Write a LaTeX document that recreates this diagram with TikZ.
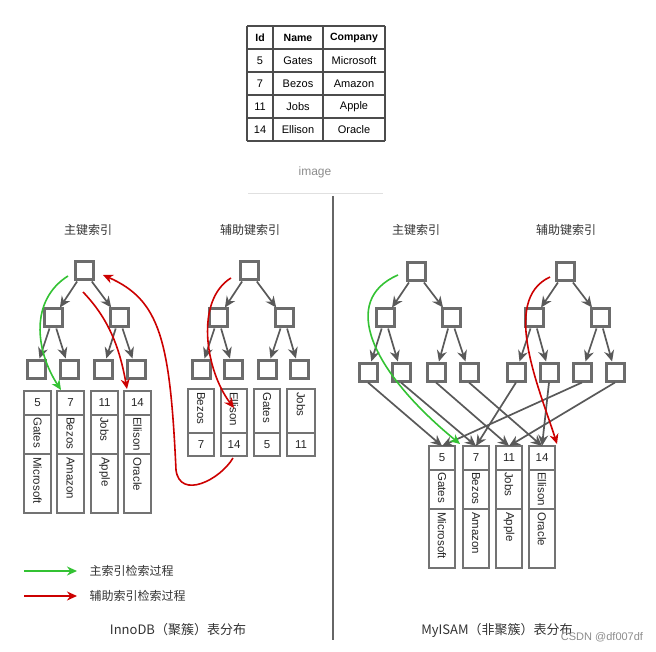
\documentclass[tikz,border=0pt]{standalone}
\usepackage{fontspec}
\setmainfont{Liberation Sans}
\newfontfamily\cjk{Noto Sans CJK SC}
\usetikzlibrary{arrows.meta,shadows}
\begin{document}
\begin{tikzpicture}[x=1pt,y=-1pt,
  tn/.style={draw=gray!85!black,line width=3pt,fill=white,minimum size=18pt,inner sep=0pt,drop shadow={opacity=0.25,shadow xshift=1pt,shadow yshift=-1pt}},
  ar/.style={draw=black!65,line width=1.7pt,-{Stealth[length=11pt,width=10pt]}},
  cell/.style={draw=gray!90!black,line width=2pt},
  tx/.style={font=\fontsize{11.5}{12}\selectfont,inner sep=0pt,text=black!85},
  rt/.style={tx,rotate=-90,anchor=west},
  gr/.style={draw=green!70!black!80,line width=1.6pt,-{Stealth[length=10pt,width=9pt]}},
  rd/.style={draw=red!80!black,line width=1.6pt,-{Stealth[length=10pt,width=9pt]}},
  lab/.style={font=\cjk\fontsize{12}{13}\selectfont,text=black!80},
  tc/.style={font=\fontsize{11}{12}\selectfont,inner sep=0pt}]
\useasboundingbox (0,0) rectangle (656,652);
% table
\foreach \y in {26,49,72,95,118,141} \draw[black!70,line width=1.2pt] (247,\y) -- (385,\y);
\foreach \x in {247,273,323,385} \draw[black!70,line width=1.2pt] (\x,26) -- (\x,141);
\node[tc,font=\bfseries\fontsize{10.5}{11}\selectfont] (h1) at (260,37.5) {Id};
\node[tc,font=\bfseries\fontsize{10.5}{11}\selectfont] (h2) at (298,37.5) {Name};
\node[tc,font=\bfseries\fontsize{10.5}{11}\selectfont] (h3) at (354,37.5) {Company};
\foreach \i/\a/\b/\c in {0/5/Gates/Microsoft,1/7/Bezos/Amazon,2/11/Jobs/Apple,3/14/Ellison/Oracle}{
  \node[tc] (ta\i) at (260,60.5+23*\i) {\a};
  \node[tc] (tb\i) at (298,60.5+23*\i) {\b};
  \node[tc] (tc\i) at (354,60.5+23*\i) {\c};}
\node[tc,text=black!45,font=\fontsize{12}{13}\selectfont] (img) at (315,172) {image};
\draw[black!12] (248,193) -- (383,193);
\draw[black!60,line width=1.5pt] (333,196) -- (333,640);
% labels
\node[lab] (l1) at (88,230) {主键索引};
\node[lab] (l2) at (250,230) {辅助键索引};
\node[lab] (l3) at (416,230) {主键索引};
\node[lab] (l4) at (566,230) {辅助键索引};
% trees
\newcommand\mytree[8]{%
 \node[tn] (#1r) at (#2,#4) {};
 \node[tn] (#1a) at (#2-31,318) {};
 \node[tn] (#1b) at (#2+35,318) {};
 \node[tn] (#1c) at (#3,#5) {};
 \node[tn] (#1d) at (#3+#6,#5) {};
 \node[tn] (#1e) at (#3+#7,#5) {};
 \node[tn] (#1f) at (#3+#8,#5) {};
 \draw[ar] (#1r) -- (#1a); \draw[ar] (#1r) -- (#1b);
 \draw[ar] (#1a) -- (#1c); \draw[ar] (#1a) -- (#1d);
 \draw[ar] (#1b) -- (#1e); \draw[ar] (#1b) -- (#1f);}
\mytree{A}{84}{36}{271}{369}{33}{67}{100}
\mytree{B}{249}{201}{271}{369}{32}{66}{98}
\mytree{C}{416}{368}{272}{372}{33}{68}{101}
\mytree{D}{565}{516}{272}{372}{33}{66}{99}
% clustered records
\newcommand\crec[7]{%
 \draw[cell] (#2,#4) rectangle (#3,#4+122);
 \draw[cell] (#2,#4+24) -- (#3,#4+24); \draw[cell] (#2,#4+63) -- (#3,#4+63);
 \coordinate (#1) at ({(#2+#3)/2},#4);
 \node[tx] (#1n) at ({(#2+#3)/2},#4+12) {#5};
 \node[rt] (#1a) at ({(#2+#3)/2},#4+26) {#6};
 \node[rt] (#1b) at ({(#2+#3)/2},#4+66) {#7};}
\crec{R1}{24}{51}{391}{5}{Gates}{Microsoft}
\crec{R2}{57}{84}{391}{7}{Bezos}{Amazon}
\crec{R3}{91}{118}{391}{11}{Jobs}{Apple}
\crec{R4}{124}{151}{391}{14}{Ellison}{Oracle}
% secondary records
\newcommand\srec[5]{%
 \draw[cell] (#2,389) rectangle (#3,456);
 \draw[cell] (#2,433) -- (#3,433);
 \coordinate (#1) at ({(#2+#3)/2},389);
 \node[rt] (#1a) at ({(#2+#3)/2},392) {#4};
 \node[tx] (#1n) at ({(#2+#3)/2},444.5) {#5};}
\srec{S1}{188}{214}{Bezos}{7}
\srec{S2}{221}{247}{Ellison}{14}
\srec{S3}{254}{280}{Gates}{5}
\srec{S4}{287}{315}{Jobs}{11}
% MyISAM records
\crec{M1}{429}{455}{446}{5}{Gates}{Microsoft}
\crec{M2}{463}{489}{446}{7}{Bezos}{Amazon}
\crec{M3}{496}{522}{446}{11}{Jobs}{Apple}
\crec{M4}{529}{555}{446}{14}{Ellison}{Oracle}
\draw[ar] (Cc.south) -- (M1);
\draw[ar] (Cd.south) -- (M2);
\draw[ar] (Ce.south) -- (M3);
\draw[ar] (Cf.south) -- (M4);
\draw[ar] (Dc.south) -- (M2);
\draw[ar] (Dd.south) -- (M4);
\draw[ar] (De.south) -- (M1);
\draw[ar] (Df.south) -- (M3);
% search paths
\coordinate (g1) at (68,276);
\draw[gr] (g1) .. controls (30,300) and (35,350) .. (61,390);
\coordinate (r1) at (83,292);
\draw[rd] (r1) .. controls (110,320) and (120,350) .. (127,389);
\coordinate (r2) at (231,278);
\draw[rd] (r2) .. controls (195,300) and (205,370) .. (234,408);
\coordinate (r3) at (233,458);
\draw[rd] (r3) .. controls (220,480) and (180,500) .. (176,470) .. controls (170,340) and (160,300) .. (103,275);
\coordinate (g2) at (398,275);
\draw[gr] (g2) .. controls (340,300) and (370,370) .. (460,444);
\coordinate (r4) at (550,277);
\draw[rd] (r4) .. controls (500,300) and (540,390) .. (557,444);
% legend
\coordinate (la) at (24,571); \coordinate (lb) at (77,571);
\coordinate (lc) at (24,596); \coordinate (ld) at (77,596);
\draw[gr] (la) -- (lb);
\draw[rd] (lc) -- (ld);
\node[lab,anchor=west] (t1) at (86,571) {主索引检索过程};
\node[lab,anchor=west] (t2) at (86,596) {辅助索引检索过程};
\node[lab,font=\cjk\fontsize{13}{14}\selectfont] (cap1) at (178,630) {InnoDB（聚簇）表分布};
\node[lab,font=\cjk\fontsize{13}{14}\selectfont] (cap2) at (497,630) {MyISAM（非聚簇）表分布};
\node[lab,text=black!45,font=\fontsize{11}{12}\selectfont] (wm) at (602,637) {CSDN @df007df};
\end{tikzpicture}
\end{document}
